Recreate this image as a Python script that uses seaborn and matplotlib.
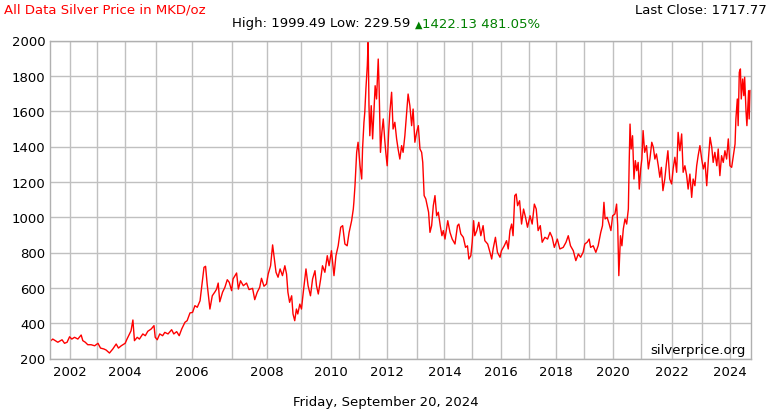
import numpy as np
import pandas as pd
import matplotlib
matplotlib.use("Agg")
import matplotlib.pyplot as plt
import seaborn as sns

# ---- data (fractional-year dates, price in MKD/oz) ----
dates = [
    2001.29, 2001.40, 2001.49, 2001.58, 2001.73, 2001.82, 2001.91,
    2002.00, 2002.08, 2002.18, 2002.30, 2002.42, 2002.48, 2002.57, 2002.66, 2002.78, 2002.91,
    2003.03, 2003.12, 2003.24, 2003.32, 2003.44, 2003.56, 2003.68, 2003.76, 2003.86,
    2004.00, 2004.06, 2004.14, 2004.19, 2004.25, 2004.30, 2004.39, 2004.46, 2004.57, 2004.65,
    2004.73, 2004.84, 2004.93, 2004.97,
    2005.03, 2005.10, 2005.18, 2005.24, 2005.33, 2005.43, 2005.49, 2005.57, 2005.64, 2005.71,
    2005.80, 2005.86, 2005.94,
    2006.01, 2006.07, 2006.13, 2006.20, 2006.24, 2006.30, 2006.34, 2006.38, 2006.45, 2006.51,
    2006.58, 2006.62, 2006.66, 2006.70, 2006.77, 2006.83, 2006.89, 2006.94,
    2007.00, 2007.04, 2007.14, 2007.19, 2007.25, 2007.33, 2007.42, 2007.49, 2007.59, 2007.65,
    2007.72, 2007.79, 2007.84, 2007.91, 2007.98,
    2008.03, 2008.10, 2008.16, 2008.20, 2008.26, 2008.32, 2008.38, 2008.45, 2008.52, 2008.57,
    2008.61, 2008.66, 2008.72, 2008.76, 2008.81, 2008.86, 2008.90, 2008.96,
    2009.01, 2009.07, 2009.16, 2009.23, 2009.31, 2009.38, 2009.46, 2009.51, 2009.57, 2009.65,
    2009.71, 2009.79, 2009.87, 2009.93,
    2010.01, 2010.10, 2010.17, 2010.25, 2010.34, 2010.41, 2010.49, 2010.57, 2010.64, 2010.73,
    2010.79, 2010.81, 2010.85, 2010.91, 2010.96,
    2011.03, 2011.09, 2011.12, 2011.17, 2011.20, 2011.24, 2011.29, 2011.32, 2011.35, 2011.38,
    2011.43, 2011.48, 2011.52, 2011.57, 2011.62, 2011.68, 2011.71, 2011.76, 2011.81, 2011.86,
    2011.91, 2011.95,
    2012.00, 2012.05, 2012.09, 2012.15, 2012.20, 2012.26, 2012.32, 2012.37, 2012.43, 2012.49,
    2012.54, 2012.60, 2012.66, 2012.71, 2012.77, 2012.83, 2012.88, 2012.94,
    2013.00, 2013.06, 2013.12, 2013.18, 2013.22, 2013.27, 2013.33, 2013.38, 2013.43, 2013.48,
    2013.54, 2013.60, 2013.66, 2013.72, 2013.78, 2013.85, 2013.91, 2013.96,
    2014.02, 2014.12, 2014.20, 2014.28, 2014.38, 2014.47, 2014.52, 2014.59, 2014.68, 2014.76,
    2014.83, 2014.88, 2014.95,
    2015.00, 2015.05, 2015.09, 2015.16, 2015.23, 2015.30, 2015.38, 2015.44, 2015.54, 2015.62,
    2015.68, 2015.73, 2015.81, 2015.88, 2015.97,
    2016.02, 2016.12, 2016.20, 2016.26, 2016.32, 2016.38, 2016.43, 2016.49, 2016.54, 2016.59,
    2016.66, 2016.73, 2016.80, 2016.87, 2016.94,
    2017.03, 2017.11, 2017.19, 2017.26, 2017.33, 2017.41, 2017.48, 2017.58, 2017.68, 2017.77,
    2017.85, 2017.93,
    2018.04, 2018.13, 2018.25, 2018.35, 2018.43, 2018.51, 2018.61, 2018.70, 2018.79, 2018.87,
    2018.96,
    2019.02, 2019.10, 2019.17, 2019.22, 2019.31, 2019.40, 2019.48, 2019.57, 2019.63, 2019.68,
    2019.72, 2019.79, 2019.86, 2019.92, 2019.98,
    2020.06, 2020.12, 2020.16, 2020.20, 2020.26, 2020.31, 2020.36, 2020.42, 2020.48, 2020.54,
    2020.57, 2020.60, 2020.64, 2020.69, 2020.74, 2020.79, 2020.84, 2020.89, 2020.93, 2020.98,
    2021.02, 2021.06, 2021.11, 2021.17, 2021.23, 2021.28, 2021.34, 2021.39, 2021.44, 2021.49,
    2021.55, 2021.60, 2021.65, 2021.70, 2021.76, 2021.81, 2021.86, 2021.92, 2021.98,
    2022.03, 2022.09, 2022.15, 2022.20, 2022.26, 2022.32, 2022.37, 2022.43, 2022.49, 2022.54,
    2022.60, 2022.66, 2022.71, 2022.77, 2022.83, 2022.88, 2022.94,
    2023.00, 2023.06, 2023.12, 2023.18, 2023.24, 2023.30, 2023.36, 2023.41, 2023.47, 2023.54,
    2023.59, 2023.65, 2023.71, 2023.77, 2023.83, 2023.89, 2023.95,
    2024.01, 2024.07, 2024.13, 2024.19, 2024.22, 2024.27, 2024.30, 2024.34, 2024.38, 2024.41,
    2024.46, 2024.50, 2024.53, 2024.58, 2024.61, 2024.65, 2024.67, 2024.69, 2024.72,
]
prices = [
    295.6, 310, 301, 292, 306, 286, 292,
    323, 310, 320, 310, 333, 301, 292, 278, 278, 272,
    286, 259, 254, 248, 231, 254, 282, 259, 272,
    286, 310, 339, 357, 418, 301, 320, 310, 339, 329,
    354, 367, 386, 320,
    306, 339, 329, 348, 339, 363, 339, 352, 329, 367,
    405, 414, 458,
    461, 499, 490, 527, 603, 716, 722, 622, 480, 555,
    578, 593, 627, 521, 575, 603, 646, 631,
    584, 650, 684, 593, 640, 612, 627, 590, 597, 533,
    575, 603, 654, 609, 622,
    678, 725, 843, 782, 688, 660, 707, 669, 725, 678,
    575, 518, 555, 452, 414, 480, 452, 508,
    480, 575, 707, 612, 555, 650, 697, 612, 565, 650,
    725, 688, 782, 725,
    810, 669, 782, 838, 943, 952, 848, 838, 914, 980,
    1046, 1084, 1178, 1367, 1424,
    1291, 1216, 1386, 1537, 1594, 1726, 1858, 1999.49, 1631, 1461,
    1631, 1443, 1574, 1744, 1669, 1895, 1744, 1367, 1480, 1556,
    1443, 1367,
    1291, 1480, 1594, 1707, 1499, 1537, 1443, 1386, 1329, 1405,
    1367, 1461, 1594, 1697, 1631, 1518, 1612, 1424,
    1480, 1518, 1386, 1367, 1310, 1122, 1103, 1065, 1028, 914,
    952, 1065, 1122, 1008, 1028, 952, 895, 924,
    876, 980, 914, 876, 848, 952, 961, 905, 886, 829,
    838, 763, 782,
    858, 980, 895, 924, 971, 895, 952, 867, 848, 801,
    763, 820, 886, 801, 773,
    810, 838, 867, 820, 924, 961, 895, 1122, 1131, 1065,
    1093, 961, 1046, 999, 943,
    1008, 961, 1074, 1046, 924, 952, 858, 886, 876, 914,
    886, 829,
    876, 820, 829, 858, 895, 838, 810, 754, 792, 773,
    801,
    848, 858, 876, 829, 838, 801, 838, 914, 952, 1084,
    990, 999, 961, 924, 1008,
    1018, 1074, 952, 669, 895, 838, 933, 990, 961, 1046,
    1310, 1527, 1386, 1461, 1216, 1320, 1263, 1310, 1159, 1273,
    1329, 1490, 1367, 1405, 1273, 1329, 1424, 1396, 1329, 1358,
    1291, 1226, 1282, 1150, 1216, 1301, 1376, 1216, 1188,
    1273, 1339, 1254, 1480, 1376, 1471, 1254, 1291, 1235, 1159,
    1244, 1112, 1216, 1178, 1291, 1348, 1405,
    1329, 1273, 1310, 1178, 1329, 1452, 1396, 1310, 1367, 1291,
    1386, 1235, 1348, 1310, 1376, 1329, 1443,
    1291, 1282, 1348, 1414, 1556, 1669, 1518, 1820, 1839, 1669,
    1782, 1688, 1792, 1594, 1518, 1650, 1716, 1556, 1717.77,
]

# number of price records in each calendar year (x axis advances per record)
record_years = list(range(2001, 2025))
records_per_year = [252, 248, 252, 279, 324, 355, 320, 306, 270, 252, 252, 265,
                    250, 250, 258, 255, 243, 252, 261, 252, 279, 265, 252, 254]

y_ticks = [200, 400, 600, 800, 1000, 1200, 1400, 1600, 1800, 2000]
x_tick_years = list(range(2002, 2025))

title = "All Data Silver Price in MKD/oz"
high, low = 1999.49, 229.59
change, change_pct = 1422.13, 481.05
last_close = 1717.77
date_label = "Friday, September 20, 2024"
source = "silverprice.org"

# ---- figure ----
sns.set_style("white")
plt.rcParams["font.family"] = ["DejaVu Sans"]

FS = 9.5
W, H = 770, 410
fig = plt.figure(figsize=(W / 100, H / 100), dpi=100)
ax = fig.add_axes([49.7 / W, 1 - 359.5 / H, (751 - 49.7) / W, (359.5 - 41.5) / H])

df = pd.DataFrame({"date": dates, "price": prices})
sns.lineplot(data=df, x="date", y="price", color="#ff0000", linewidth=1.0,
             estimator=None, sort=False, ax=ax)

knots = np.array(record_years + [record_years[-1] + 1], dtype=float)
cum = np.concatenate([[0.0], np.cumsum(records_per_year)]).astype(float)


def fwd(x):
    return np.interp(x, knots, cum)


def inv(y):
    return np.interp(y, cum, knots)


ax.set_xscale("function", functions=(fwd, inv))
ax.set_xlim(2001.29, 2024.755)
ax.set_ylim(200, 2000)

ax.set_xticks(x_tick_years)
ax.set_xticklabels([str(y) if y % 2 == 0 else "" for y in x_tick_years])
ax.set_yticks(y_ticks)
ax.set_yticklabels([str(v) for v in y_ticks])
ax.xaxis.set_minor_locator(matplotlib.ticker.NullLocator())
ax.tick_params(axis="both", length=0, labelsize=FS, colors="#000000")
ax.tick_params(axis="x", pad=5)
ax.tick_params(axis="y", pad=3)
ax.set_xlabel("")
ax.set_ylabel("")
ax.grid(True, color="#c0c0c0", linewidth=1.0)
ax.set_axisbelow(True)
for s in ax.spines.values():
    s.set_color("#b0b0b0")
    s.set_linewidth(1.0)

ax.text(0.993, 0.008, source, transform=ax.transAxes, ha="right", va="bottom",
        fontsize=FS, color="#000000")

# header texts
fig.text(4 / W, 1 - 10 / H, title, ha="left", va="center", fontsize=FS, color="#ff0000")
fig.text(767 / W, 1 - 10 / H, f"Last Close: {last_close:.2f}", ha="right", va="center",
         fontsize=FS, color="#000000")
t1 = fig.text(232 / W, 1 - 24 / H, f"High: {high:.2f} Low: {low:.2f} ", ha="left",
              va="center", fontsize=FS, color="#000000")
t2 = ax.annotate("\u25b2", xy=(1, 0.45), xycoords=t1, ha="left", va="center",
                 fontsize=7, color="#008000", annotation_clip=False)
ax.annotate(f"{change:.2f} {change_pct:.2f}%", xy=(1, 0.5), xycoords=(t2, t1), ha="left",
            va="center", fontsize=FS, color="#008000", annotation_clip=False)

fig.text(386 / W, 1 - 403 / H, date_label, ha="center", va="center", fontsize=FS,
         color="#000000")

fig.savefig("out.png", dpi=100, facecolor="white")
